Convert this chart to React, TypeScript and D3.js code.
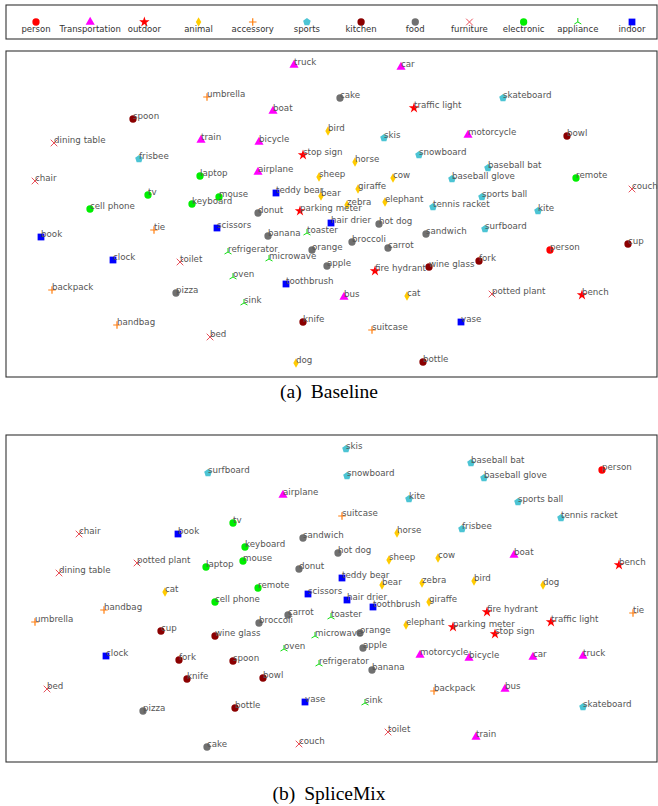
import React from "react";
import * as d3 from "d3";

const categories = ["person", "Transportation", "outdoor", "animal", "accessory", "sports", "kitchen", "food", "furniture", "electronic", "appliance", "indoor"];
const categoryColors = ["#ff0000", "#ff00ff", "#ff0000", "#ffcc00", "#ff7f0e", "#4cc4d4", "#8b0000", "#707070", "#e8505b", "#00ee00", "#11dd11", "#0000ff"];
const categoryShapes = ["circle", "triangle", "star", "thinDiamond", "plus", "pentagon", "circle", "circle", "x", "circle", "triUp", "square"];

const classNames = [
  "person", "bicycle", "car", "motorcycle", "airplane", "bus", "train", "truck", "boat",
  "traffic light", "fire hydrant", "stop sign", "parking meter", "bench",
  "bird", "cat", "dog", "horse", "sheep", "cow", "elephant", "bear", "zebra", "giraffe",
  "backpack", "umbrella", "handbag", "tie", "suitcase",
  "frisbee", "skis", "snowboard", "sports ball", "kite", "baseball bat", "baseball glove", "skateboard", "surfboard", "tennis racket",
  "bottle", "wine glass", "cup", "fork", "knife", "spoon", "bowl",
  "banana", "apple", "sandwich", "orange", "broccoli", "carrot", "hot dog", "pizza", "donut", "cake",
  "chair", "couch", "potted plant", "bed", "dining table", "toilet",
  "tv", "laptop", "mouse", "remote", "keyboard", "cell phone",
  "microwave", "oven", "toaster", "sink", "refrigerator",
  "book", "clock", "vase", "scissors", "teddy bear", "hair drier", "toothbrush",
];
const classCategory = [
  0, 1, 1, 1, 1, 1, 1, 1, 1,
  2, 2, 2, 2, 2,
  3, 3, 3, 3, 3, 3, 3, 3, 3, 3,
  4, 4, 4, 4, 4,
  5, 5, 5, 5, 5, 5, 5, 5, 5, 5,
  6, 6, 6, 6, 6, 6, 6,
  7, 7, 7, 7, 7, 7, 7, 7, 7, 7,
  8, 8, 8, 8, 8, 8,
  9, 9, 9, 9, 9, 9,
  10, 10, 10, 10, 10,
  11, 11, 11, 11, 11, 11, 11,
];

// Baseline embedding (panel a)
const baselineX = [
  550, 259, 401, 468, 258, 344, 201, 294, 273,
  414, 375, 303, 300, 582,
  328, 407, 296, 355, 319, 393, 385, 321, 347, 358,
  52, 207, 117, 154, 372,
  139, 384, 419, 482, 538, 488, 452, 503, 485, 433,
  423, 429, 628, 479, 303, 133, 567,
  268, 327, 426, 312, 352, 388, 379, 176, 258, 340,
  35, 632, 492, 210, 54, 180,
  148, 200, 219, 576, 192, 90,
  269, 233, 307, 244, 228,
  41, 113, 461, 217, 276, 331, 286,
];
const baselineY = [
  250, 142, 67, 135, 172, 297, 140, 65, 111,
  108, 271, 155, 211, 295,
  131, 296, 363, 162, 177, 178, 202, 196, 205, 189,
  290, 97, 325, 230, 330,
  159, 138, 155, 197, 211, 168, 179, 98, 229, 207,
  362, 267, 244, 261, 322, 119, 136,
  236, 266, 234, 250, 242, 248, 224, 293, 213, 98,
  181, 189, 294, 337, 143, 262,
  195, 176, 197, 178, 204, 209,
  259, 277, 233, 303, 252,
  237, 260, 322, 228, 193, 223, 284,
];

// SpliceMix embedding (panel b)
const spliceX = [
  602, 469, 533, 420, 283, 505, 476, 583, 514,
  551, 487, 495, 453, 619,
  474, 165, 543, 397, 389, 438, 406, 382, 422, 429,
  434, 35, 104, 633, 342,
  462, 346, 347, 518, 409, 471, 484, 583, 208, 561,
  235, 215, 161, 179, 187, 233, 263,
  372, 363, 303, 360, 259, 288, 338, 143, 299, 207,
  79, 299, 137, 47, 59, 388,
  233, 206, 243, 258, 245, 215,
  315, 284, 331, 365, 319,
  178, 106, 305, 308, 342, 347, 373,
];
const spliceY = [
  470, 658, 657, 655, 495, 689, 737, 656, 555,
  622, 612, 634, 627, 565,
  581, 592, 585, 533, 560, 558, 625, 585, 583, 602,
  691, 622, 610, 613, 516,
  529, 449, 476, 502, 499, 463, 478, 707, 473, 518,
  708, 636, 631, 660, 679, 661, 678,
  670, 648, 538, 633, 623, 615, 553, 711, 569, 747,
  534, 744, 563, 689, 573, 732,
  523, 567, 561, 588, 547, 602,
  636, 649, 617, 703, 664,
  534, 656, 702, 594, 578, 600, 607,
];

const captions = ["(a)", "Baseline", "(b)", "SpliceMix"];

const W = 658;
const H = 806;
const FRAME_L = 6;
const FRAME_R = 657;
const panels = [
  { xs: baselineX, ys: baselineY, top: 51, bottom: 377, cap: [captions[0], captions[1]], capY: 398 },
  { xs: spliceX, ys: spliceY, top: 435, bottom: 762, cap: [captions[2], captions[3]], capY: 800 },
];

function pentagonPath(r: number) {
  const pts = d3.range(5).map((i) => {
    const a = -Math.PI / 2 + (i * 2 * Math.PI) / 5;
    return [r * Math.cos(a), r * Math.sin(a)] as [number, number];
  });
  return "M" + pts.map((p) => p.join(",")).join("L") + "Z";
}

function Marker({ cat, x, y }: { cat: number; x: number; y: number }) {
  const shape = categoryShapes[cat];
  const color = categoryColors[cat];
  const t = `translate(${x},${y})`;
  switch (shape) {
    case "circle":
      return <path transform={t} d={d3.symbol(d3.symbolCircle, 42)()!} fill={color} />;
    case "triangle":
      return <path transform={t} d={d3.symbol(d3.symbolTriangle, 36)()!} fill={color} />;
    case "star":
      return <path transform={t} d={d3.symbol(d3.symbolStar, 34)()!} fill={color} />;
    case "square":
      return <path transform={t} d={d3.symbol(d3.symbolSquare, 46)()!} fill={color} />;
    case "pentagon":
      return <path transform={t} d={pentagonPath(4)} fill={color} />;
    case "thinDiamond":
      return <path transform={t} d="M0,-4.8L2.7,0L0,4.8L-2.7,0Z" fill={color} />;
    case "plus":
      return <path transform={t} d="M-3.8,0H3.8M0,-3.8V3.8" stroke={color} strokeWidth={1.2} fill="none" />;
    case "x":
      return <path transform={t} d="M-3.3,-3.3L3.3,3.3M-3.3,3.3L3.3,-3.3" stroke={color} strokeWidth={1} fill="none" />;
    case "triUp":
      return <path transform={t} d="M0,0V-4M0,0L-3.5,2M0,0L3.5,2" stroke={color} strokeWidth={1} fill="none" />;
    default:
      return null;
  }
}

export default function App() {
  const legendX = d3.scaleLinear().domain([0, categories.length - 1]).range([36, 632]);
  return (
    <svg width={W} height={H} style={{ position: "absolute", left: 0, top: 0, background: "#fff" }} fontFamily="DejaVu Sans, sans-serif">
      <rect x={0} y={0} width={W} height={H} fill="#fff" />
      {/* legend */}
      <rect x={FRAME_L} y={5} width={FRAME_R - FRAME_L} height={34} fill="none" stroke="#333" strokeWidth={1.1} />
      {categories.map((c, i) => (
        <g key={c}>
          <Marker cat={i} x={legendX(i)} y={22} />
          <text x={legendX(i)} y={32} fontSize={8.5} textAnchor="middle" fill="#333">{c}</text>
        </g>
      ))}
      {panels.map((p, pi) => {
        const xScale = d3.scaleLinear().domain([FRAME_L, FRAME_R]).range([FRAME_L, FRAME_R]);
        const yScale = d3.scaleLinear().domain([p.top, p.bottom]).range([p.top, p.bottom]);
        return (
          <g key={pi}>
            <rect x={FRAME_L} y={p.top} width={FRAME_R - FRAME_L} height={p.bottom - p.top} fill="none" stroke="#333" strokeWidth={1.1} />
            {classNames.map((n, i) => (
              <Marker key={"m" + i} cat={classCategory[i]} x={xScale(p.xs[i])} y={yScale(p.ys[i])} />
            ))}
            {classNames.map((n, i) => (
              <text key={"t" + i} x={xScale(p.xs[i])} y={yScale(p.ys[i])} fontSize={8.7} fill="#555">{n}</text>
            ))}
            <text x={329} y={p.capY} fontSize={19.5} textAnchor="middle" fontFamily="Liberation Serif, Times New Roman, serif" fill="#000">
              <tspan>{p.cap[0]}</tspan>
              <tspan dx={9}>{p.cap[1]}</tspan>
            </text>
          </g>
        );
      })}
    </svg>
  );
}
